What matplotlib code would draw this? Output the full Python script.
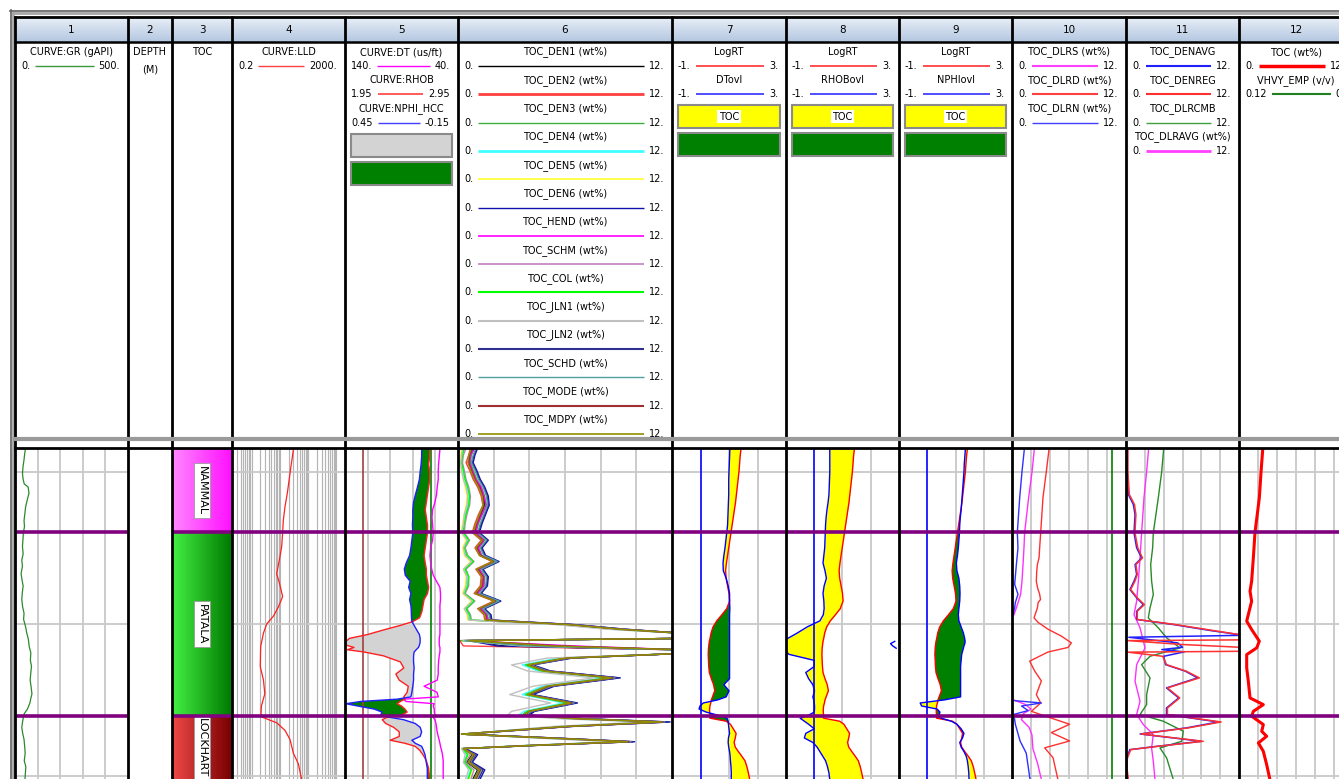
import numpy as np
import matplotlib.pyplot as plt
from matplotlib.colors import LinearSegmentedColormap
from matplotlib.patches import Rectangle

nan = float('nan')
plt.rcParams['font.family'] = ['DejaVu Sans']
FS = 7

# ---------------- depth window / formations ----------------
D_TOP, D_BOT = 2998.5, 3020.2
GRID_DEPTHS = [3000, 3010, 3020]
FM_NAMES = ['NAMMAL', 'PATALA', 'LOCKHART']
FM_TOPS = [2990.0, 3003.95, 3016.05]
FM_BASES = [3003.95, 3016.05, 3030.0]
FM_COLORS = [('#ff88ff', '#ff10ff'), ('#44f044', '#007a00'), ('#f04848', '#780000')]

# ---------------- track 1: gamma ray ----------------
GR_DEPTH = [2998.5, 2998.8, 2999.2, 2999.6, 3000.1, 3000.5, 3000.8, 3001.0, 3001.4, 3001.8,
            3002.3, 3002.7, 3003.2, 3003.6, 3004.0, 3004.5, 3004.9, 3005.4, 3005.8, 3006.2,
            3006.7, 3007.1, 3007.5, 3008.0, 3008.4, 3008.9, 3009.3, 3009.7, 3010.2, 3010.6,
            3011.0, 3011.5, 3011.9, 3012.4, 3012.8, 3013.2, 3013.7, 3014.1, 3014.6, 3014.9,
            3015.2, 3015.6, 3015.9, 3016.3, 3016.8, 3017.2, 3017.6, 3018.1, 3018.5, 3019.0,
            3019.4, 3019.8, 3020.25]
GR = [46, 43, 40, 36, 33, 36, 41, 58, 62, 55,
      47, 44, 40, 42, 37, 35, 33, 36, 30, 33,
      27, 31, 36, 32, 30, 34, 40, 38, 47, 52,
      59, 63, 70, 68, 73, 70, 67, 71, 75, 70,
      66, 55, 41, 35, 30, 34, 40, 43, 45, 41,
      48, 46, 44]

# ---------------- track 4: deep resistivity ----------------
LLD_DEPTH = [2998.5, 3000.1, 3001.4, 3002.3, 3003.2, 3004.0, 3004.9, 3005.8, 3006.7, 3007.3,
             3008.2, 3008.9, 3009.5, 3010.0, 3010.6, 3011.5, 3012.8, 3013.7, 3014.6, 3015.4,
             3016.1, 3016.5, 3017.0, 3017.6, 3018.5, 3019.2, 3020.25]
LLD = [30, 22.6, 18.2, 15, 13.1, 12.4, 11.5, 9.5, 7.6, 9.5,
       12.4, 8.7, 5.8, 3.4, 2.6, 2.07, 2.0, 2.6, 2.9, 2.2,
       2.1, 7.6, 15, 22.6, 29.7, 44.6, 58.5]

# ---------------- track 5: sonic / density / neutron ----------------
T5_DEPTH = [2998.5, 2999.0, 2999.5, 3000.0, 3000.5, 3001.0, 3001.5, 3002.0, 3002.5, 3003.0,
            3003.5, 3004.0, 3004.5, 3005.0, 3005.5, 3006.0, 3006.4, 3006.8, 3007.2, 3007.6,
            3008.0, 3008.4, 3008.8, 3009.2, 3009.6, 3009.85, 3010.1, 3010.4, 3010.7, 3010.95,
            3011.2, 3011.4, 3011.55, 3011.7, 3011.85, 3012.1, 3012.5, 3012.9, 3013.3, 3013.7,
            3014.1, 3014.5, 3014.8, 3014.95, 3015.1, 3015.25, 3015.4, 3015.6, 3015.8, 3016.0,
            3016.15, 3016.3, 3016.55, 3016.8, 3017.1, 3017.4, 3017.65, 3017.85, 3018.05, 3018.3,
            3018.6, 3019.0, 3019.5, 3020.25]
RHOB = [2.70, 2.70, 2.69, 2.70, 2.70, 2.69, 2.68, 2.67, 2.66, 2.67,
        2.68, 2.68, 2.67, 2.66, 2.65, 2.66, 2.67, 2.67, 2.68, 2.69,
        2.68, 2.65, 2.64, 2.63, 2.61, 2.55, 2.44, 2.29, 2.15, 1.99,
        1.95, 1.96, 2.03, 1.97, 2.12, 2.29, 2.44, 2.47, 2.40, 2.43,
        2.51, 2.50, 2.47, 2.48, 2.44, 2.41, 2.45, 2.48, 2.50, 2.45,
        2.32, 2.28, 2.31, 2.38, 2.43, 2.43, 2.35, 2.48, 2.57, 2.61,
        2.64, 2.67, 2.69, 2.70]
NPHI = [0.043, 0.043, 0.046, 0.051, 0.055, 0.065, 0.076, 0.086, 0.090, 0.090,
        0.092, 0.090, 0.095, 0.100, 0.107, 0.125, 0.135, 0.130, 0.104, 0.112,
        0.100, 0.107, 0.100, 0.098, 0.097, 0.095, 0.083, 0.069, 0.055, 0.051,
        0.051, 0.055, 0.060, 0.072, 0.083, 0.086, 0.086, 0.083, 0.086, 0.086,
        0.090, 0.095, 0.100, 0.173, 0.366, 0.445, 0.383, 0.296, 0.253, 0.261,
        0.209, 0.139, 0.077, 0.051, 0.043, 0.051, 0.095, 0.077, 0.043, 0.034,
        0.025, 0.020, 0.013, 0.013]
DT = [56.0, 56.6, 57.2, 57.5, 57.5, 58.4, 59.0, 60.4, 62.5, 63.0,
      62.5, 61.9, 62.5, 64.2, 64.8, 64.2, 63.3, 61.9, 59.0, 56.0,
      55.5, 55.5, 56.0, 56.0, 56.0, 56.0, 56.0, 56.0, 56.0, 56.6,
      56.6, 56.6, 56.0, 56.0, 56.0, 56.6, 57.2, 57.5, 57.5, 58.4,
      70.0, 58.5, 57.5, 88.0, 86.0, 61.0, 62.0, 61.0, 61.0, 60.4,
      62.0, 60.4, 59.5, 59.0, 58.4, 57.5, 56.6, 56.0, 55.5, 54.6,
      53.7, 53.1, 53.1, 53.1]
T5_REF_LINES = [(2.11, '#a04040'), (2.71, '#008000')]   # in RHOB units

# ---------------- track 6: TOC models ----------------
T6_DEPTH = [2998.45, 2998.9, 2999.4, 2999.9, 3000.5, 3001.0, 3001.6, 3002.2, 3002.8, 3003.4,
            3004.0, 3004.5, 3005.0, 3005.5, 3005.9, 3006.4, 3006.9, 3007.5, 3008.0, 3008.5,
            3009.0, 3009.4, 3009.75, 3010.05, 3010.35, 3010.65, 3010.95, 3011.1, 3011.45, 3011.72,
            3011.92, 3012.25, 3012.7, 3013.1, 3013.55, 3014.1, 3014.65, 3015.2, 3015.75, 3016.0,
            3016.23, 3016.45, 3016.75, 3017.25, 3017.5, 3017.75, 3018.0, 3018.2, 3018.6, 3019.1,
            3019.6, 3020.3]
TOC_DEN1 = [0.85, 0.7, 0.6, 0.8, 1.0, 1.25, 1.45, 1.5, 1.3, 1.1, 0.95, 1.45, 1.1, 1.3, 2.05, 1.15,
            1.45, 1.4, 1.05, 2.15, 1.25, 1.6, 1.65,
            6.0, 8.8, 13, 13, 0.8, 2.6, 13, 13, 5.8, 3.8, 4.6, 8.4, 4.9, 3.8, 6.1, 3.9, 3.6, 6.3,
            11.2, 5.8, 0.2, 4.8, 9.3, 3.9, 0.3, 0.8, 0.5, 1.1, 0.8]
TOC_DEN2 = [0.7, 0.6, 0.45, 0.65, 0.85, 1.1, 1.3, 1.4, 1.15, 0.95, 0.8, 1.3, 0.95, 1.2, 1.9, 1.0,
            1.3, 1.25, 0.9, 2.0, 1.1, 1.45, 1.5,
            6.4, 9.2, 13, 13, 0.1, 0.3, 13, 13, 6.2, 4.0, 5.0, 8.9, 5.2, 4.0, 6.5, 4.1, 3.8, 6.8,
            11.7, 6.2, 0.2, 5.3, 9.8, 4.1, 0.2, 1.0, 0.7, 1.3, 1.0]
TOC_DEN3 = [0.9, 0.75, 0.7, 0.85, 1.05, 1.3, 1.5, 1.55, 1.35, 1.15, 1.0, 1.5, 1.15, 1.35, 2.1, 1.2,
            1.5, 1.45, 1.1, 2.2, 1.3, 1.65, 1.7,
            6.1, 8.9, 13, 13, 0.4, 4.0, 13, 13, 5.9, 3.8, 4.7, 8.5, 4.9, 3.8, 6.2, 3.9, 3.6, 6.4,
            11.3, 5.9, 0.2, 4.9, 9.4, 3.9, 0.3, 0.85, 0.55, 1.15, 0.85]
TOC_DEN4 = [0.3, 0.2, 0.15, 0.25, 0.35, 0.5, 0.6, 0.55, 0.4, 0.3, 0.25, 0.55, 0.3, 0.45, 0.8, 0.35,
            0.55, 0.5, 0.3, 0.85, 0.4, 0.6, 0.65,
            5.8, 8.6, 13, 13, 0.5, 3.5, 13, 13, 5.6, 3.6, 4.5, 8.2, 4.7, 3.6, 5.9, 3.7, 3.4, 6.0,
            10.9, 5.6, 0.2, 4.6, 9.0, 3.8, 0.2, 0.5, 0.3, 0.7, 0.5]
TOC_DEN5 = [0.2, 0.15, 0.1, 0.2, 0.3, 0.4, 0.5, 0.45, 0.35, 0.25, 0.2, 0.45, 0.25, 0.35, 0.7, 0.3,
            0.45, 0.4, 0.25, 0.75, 0.35, 0.5, 0.55,
            6.1, 9.0, 13, 13, 0.6, 5.5, 13, 13, 6.0, 3.9, 4.8, 8.6, 5.0, 3.9, 6.3, 4.0, 3.7, 6.6,
            11.5, 6.0, 0.3, 5.1, 9.6, 4.0, 0.3, 0.6, 0.35, 0.8, 0.6]
TOC_DEN6 = [1.1, 0.95, 0.85, 1.05, 1.25, 1.5, 1.7, 1.75, 1.55, 1.35, 1.2, 1.7, 1.35, 1.55, 2.3, 1.4,
            1.7, 1.65, 1.3, 2.4, 1.5, 1.85, 1.9,
            6.6, 9.4, 13, 13, 0.6, 2.2, 13, 13, 6.4, 4.2, 5.2, 9.1, 5.4, 4.2, 6.7, 4.3, 4.0, 7.0,
            11.9, 6.3, 0.3, 5.4, 9.9, 4.2, 0.4, 1.1, 0.8, 1.5, 1.2]
TOC_HEND = [0.95, 0.7, 0.65, 0.8, 1.0, 1.3, 1.45, 1.6, 1.35, 1.1, 1.0, 1.45, 1.15, 1.3, 2.0, 1.2,
            1.45, 1.45, 1.1, 2.1, 1.3, 1.6, 1.7,
            6.3, 9.1, 13, 13, 0.3, 6.5, 13, 13, 6.1, 4.0, 4.9, 8.7, 5.1, 3.9, 6.4, 4.0, 3.8, 6.6,
            11.5, 6.1, 0.2, 5.1, 9.6, 4.0, 0.3, 0.9, 0.6, 1.2, 0.9]
TOC_SCHM = [0.45, 0.3, 0.25, 0.35, 0.45, 0.6, 0.7, 0.65, 0.5, 0.4, 0.35, 0.65, 0.4, 0.55, 0.9, 0.45,
            0.6, 0.6, 0.4, 0.95, 0.5, 0.7, 0.75,
            6.0, 8.9, 13, 13, 0.4, 4.5, 13, 13, 5.9, 3.8, 4.7, 8.4, 4.9, 3.8, 6.2, 3.9, 3.6, 6.4,
            11.2, 5.8, 0.2, 4.9, 9.3, 3.9, 0.3, 0.7, 0.4, 0.9, 0.7]
TOC_COL = [0.35, 0.25, 0.2, 0.3, 0.4, 0.55, 0.65, 0.6, 0.45, 0.35, 0.3, 0.6, 0.35, 0.5, 0.85, 0.4,
           0.6, 0.55, 0.35, 0.9, 0.45, 0.65, 0.7,
           6.2, 9.0, 13, 13, 0.2, 4.2, 13, 13, 6.0, 3.8, 4.7, 8.5, 5.0, 3.8, 6.2, 3.9, 3.6, 6.5,
           11.3, 5.9, 0.2, 5.0, 9.4, 3.9, 0.25, 0.55, 0.35, 0.75, 0.55]
TOC_JLN1 = [0.25, 0.2, 0.15, 0.2, 0.3, 0.45, 0.55, 0.5, 0.35, 0.3, 0.2, 0.5, 0.3, 0.4, 0.75, 0.3,
            0.5, 0.45, 0.3, 0.8, 0.35, 0.55, 0.6,
            5.5, 8.3, 13, 13, 0.3, 3.5, 13, 13, 5.0, 3.0, 3.9, 7.6, 4.2, 2.9, 5.2, 3.0, 2.8, 5.6,
            10.5, 5.3, 0.2, 4.3, 8.7, 3.6, 0.2, 0.4, 0.3, 0.6, 0.4]
TOC_JLN2 = [1.05, 0.9, 0.8, 1.0, 1.2, 1.45, 1.65, 1.7, 1.5, 1.3, 1.15, 1.65, 1.3, 1.5, 2.25, 1.35,
            1.65, 1.6, 1.25, 2.35, 1.45, 1.8, 1.85,
            6.5, 9.3, 13, 13, 0.5, 5.0, 13, 13, 6.3, 4.1, 5.1, 9.0, 5.3, 4.1, 6.6, 4.2, 3.9, 6.9,
            11.8, 6.2, 0.3, 5.3, 9.8, 4.1, 0.35, 1.0, 0.75, 1.4, 1.1]
TOC_SCHD = [1.0, 0.85, 0.75, 0.95, 1.15, 1.4, 1.6, 1.65, 1.45, 1.25, 1.1, 1.6, 1.25, 1.45, 2.2, 1.3,
            1.6, 1.55, 1.2, 2.3, 1.4, 1.75, 1.8,
            6.4, 9.2, 13, 13, 0.4, 3.8, 13, 13, 6.2, 4.1, 5.0, 8.8, 5.2, 4.0, 6.5, 4.1, 3.8, 6.7,
            11.6, 6.1, 0.3, 5.2, 9.7, 4.1, 0.3, 0.95, 0.7, 1.3, 1.0]
TOC_MODE = [0.8, 0.65, 0.6, 0.75, 0.95, 1.2, 1.4, 1.45, 1.25, 1.05, 0.9, 1.4, 1.05, 1.25, 2.0, 1.1,
            1.4, 1.35, 1.0, 2.1, 1.2, 1.55, 1.6,
            6.3, 9.1, 13, 13, 0.7, 5.8, 13, 13, 6.1, 4.0, 4.9, 8.7, 5.1, 4.0, 6.4, 4.0, 3.7, 6.6,
            11.5, 6.1, 0.2, 5.1, 9.6, 4.0, 0.3, 0.9, 0.65, 1.25, 0.95]
TOC_MDPY = [0.75, 0.6, 0.55, 0.7, 0.9, 1.15, 1.35, 1.4, 1.2, 1.0, 0.85, 1.35, 1.0, 1.2, 1.95, 1.05,
            1.35, 1.3, 0.95, 2.05, 1.15, 1.5, 1.55,
            6.2, 9.0, 13, 13, 0.6, 5.2, 13, 13, 6.0, 3.9, 4.8, 8.6, 5.0, 3.9, 6.3, 4.0, 3.7, 6.5,
            11.4, 6.0, 0.2, 5.0, 9.5, 4.0, 0.3, 0.85, 0.6, 1.2, 0.9]

# ---------------- tracks 7-9: LogRT overlays ----------------
OVL_DEPTH = [2998.5, 2999.0, 2999.5, 3000.0, 3000.5, 3001.0, 3001.5, 3002.0, 3002.5, 3003.0,
             3003.5, 3004.0, 3004.5, 3005.0, 3005.5, 3006.0, 3006.5, 3007.0, 3007.5, 3008.0,
             3008.5, 3009.0, 3009.4, 3009.8, 3010.2, 3010.6, 3011.0, 3011.15, 3011.3, 3011.45,
             3011.6, 3012.0, 3012.4, 3012.8, 3013.2, 3013.6, 3014.0, 3014.4, 3014.8, 3015.0,
             3015.2, 3015.4, 3015.6, 3015.8, 3016.0, 3016.2, 3016.4, 3016.6, 3016.9, 3017.2,
             3017.5, 3017.8, 3018.1, 3018.4, 3018.7, 3019.0, 3019.4, 3019.8, 3020.25]
LOGRT = [1.42, 1.39, 1.37, 1.35, 1.32, 1.29, 1.26, 1.23, 1.19, 1.15,
         1.11, 1.07, 1.03, 0.99, 0.95, 0.91, 0.88, 0.90, 0.95, 1.00,
         1.02, 0.92, 0.75, 0.57, 0.44, 0.37, 0.33, 0.31, 0.30, 0.29,
         0.28, 0.27, 0.28, 0.29, 0.31, 0.38, 0.46, 0.50, 0.42, 0.38,
         0.36, 0.33, 0.32, 0.32, 0.33, 0.33, 0.90, 1.05, 1.15, 1.25,
         1.22, 1.18, 1.22, 1.33, 1.45, 1.56, 1.63, 1.68, 1.73]
DTOVL = [1.03, 1.02, 1.01, 1.00, 0.99, 0.99, 0.99, 0.98, 0.97, 0.96,
         0.95, 0.92, 0.89, 0.86, 0.82, 0.79, 0.80, 0.90, 0.97, 1.02,
         1.02, 1.03, 1.02, 1.02, 1.02, 1.02, 1.02, 1.02, 1.02, 1.02,
         1.02, 1.02, 1.02, 1.02, 1.02, 1.02, 0.82, 1.00, 0.90, 0.60,
         0.10, -0.02, -0.05, 0.20, 0.60, 0.93, 0.97, 0.98, 1.00, 1.02,
         0.98, 0.97, 0.99, 1.02, 1.04, 1.05, 1.07, 1.08, 1.08]
RHOBOVL = [0.55, 0.55, 0.55, 0.55, 0.54, 0.53, 0.52, 0.49, 0.45, 0.42,
           0.40, 0.39, 0.38, 0.37, 0.34, 0.31, 0.38, 0.43, 0.35, 0.31,
           0.34, 0.35, 0.32, 0.20, -0.25, -0.60, -0.98, -1.15, -1.30, -1.22,
           -1.10, -0.90, 0.00, 0.00, -0.30, -0.20, -0.05, 0.01, -0.05, -0.02,
           0.00, 0.01, 0.01, 0.00, -0.20, -0.50, -0.35, -0.20, 0.00, -0.30,
           -0.35, -0.05, 0.10, 0.20, 0.30, 0.40, 0.47, 0.52, 0.55]
NPHIOVL = [1.35, 1.33, 1.31, 1.30, 1.28, 1.26, 1.24, 1.22, 1.20, 1.17,
           1.15, 1.14, 1.12, 1.10, 1.07, 1.03, 1.05, 1.12, 1.15, 1.16,
           1.15, 1.12, 1.10, 1.12, 1.20, 1.28, 1.33, 1.34, 1.33, 1.30,
           1.28, 1.22, 1.20, 1.18, 1.18, 1.18, 1.18, 1.18, 1.18, 0.60,
           -0.25, -0.20, 0.35, 0.45, 0.42, 0.50, 0.85, 1.05, 1.20, 1.30,
           1.25, 1.15, 1.20, 1.30, 1.38, 1.42, 1.45, 1.47, 1.48]

# ---------------- track 10: resistivity-based TOC ----------------
DLRS_DEPTH = [2998.5, 3000.0, 3001.7, 3004.0, 3005.0, 3006.1, 3007.2, 3008.05, 3008.95, 3009.4,
              3012.0, 3015.0, 3015.3, 3015.6, 3015.9, 3016.3, 3016.8, 3017.3, 3018.2, 3019.2, 3020.25]
TOC_DLRS = [2.35, 2.11, 1.75, 1.33, 1.26, 1.16, 1.05, 0.91, 0.46, 0.21,
            nan, 0.2, 1.4, 2.0, 1.2, 1.0, 1.8, 2.1, 2.2, 2.7, 3.1]
DLRD_DEPTH = [2998.5, 3000.0, 3001.7, 3004.0, 3005.0, 3005.65, 3006.1, 3006.55, 3007.2, 3007.65,
              3008.05, 3008.4, 3008.6, 3008.95, 3009.6, 3009.9, 3010.35, 3010.8, 3011.25, 3011.55,
              3011.85, 3012.45, 3013.1, 3013.75, 3014.65, 3015.2, 3015.75, 3016.2, 3016.6, 3017.15,
              3017.7, 3018.15, 3018.8, 3020.25]
TOC_DLRD = [3.9, 3.61, 3.26, 3.02, 2.91, 2.85, 2.67, 2.6, 2.56, 2.7,
            2.91, 3.0, 2.75, 2.67, 2.32, 2.74, 3.79, 5.19, 6.25, 5.89,
            3.79, 1.86, 2.39, 3.09, 2.56, 3.02, 2.04, 4.14, 6.07, 4.14,
            6.07, 3.44, 4.32, 4.84]
DLRN_DEPTH = [2998.5, 3000.0, 3001.7, 3004.0, 3005.0, 3006.1, 3007.4, 3008.05, 3008.6, 3008.95,
              3009.4, 3012.0, 3015.05, 3015.2, 3015.4, 3015.7, 3015.95, 3016.6, 3017.7, 3018.5, 3020.25]
TOC_DLRN = [1.3, 1.05, 0.81, 0.56, 0.63, 0.46, 0.28, 0.63, 0.35, 0.28,
            0.1, nan, 0.3, 3.1, 1.0, 1.7, 0.2, 0.35, 0.85, 1.5, 1.9]
T10_REF = 10.55

# ---------------- track 11: averaged TOC ----------------
DENAVG_DEPTH = [2998.5, 3000.0, 3001.49, 3002.15, 3002.81, 3004.01, 3005.0, 3005.66, 3006.1, 3006.75,
                3007.19, 3007.74, 3008.29, 3008.73, 3009.17, 3009.71, 3010.04, 3010.44, 3010.75, 3010.88,
                3011.25, 3011.54, 3011.69, 3011.84, 3012.13, 3012.68, 3013.11, 3013.55, 3014.21, 3014.87,
                3015.53, 3015.96, 3016.45, 3016.84, 3017.24, 3017.72, 3018.05, 3018.27, 3018.82, 3019.47,
                3020.25]
TOC_DENAVG = [0.14, 0.14, 0.25, 0.78, 0.96, 0.85, 1.13, 1.66, 0.96, 1.13,
              0.85, 0.42, 1.13, 1.84, 1.13, 1.13, 5.0, 9.0, 12.5, 0.3,
              5.5, 6.0, 3.8, 6.2, 4.0, 4.2, 6.3, 7.6, 4.3, 5.6,
              4.3, 4.3, 9.8, 6.4, 1.5, 8.0, 3.3, 0.4, 0.1, 0.05,
              0.2]
DENREG_DEPTH = [2998.5, 3000.0, 3001.49, 3002.15, 3002.81, 3004.01, 3005.0, 3005.66, 3006.1, 3006.75,
                3007.19, 3007.74, 3008.29, 3008.73, 3009.17, 3009.71, 3010.04, 3010.44, 3010.75, 3011.05,
                3011.1, 3011.35, 3011.55, 3011.8, 3011.86, 3012.13, 3012.68, 3013.11, 3013.55, 3014.21,
                3014.87, 3015.53, 3015.96, 3016.45, 3016.84, 3017.24, 3017.72, 3018.05, 3018.27, 3018.82,
                3019.47, 3020.25]
TOC_DENREG = [0.2, 0.2, 0.35, 0.9, 1.05, 0.95, 1.25, 1.75, 1.05, 1.2,
              0.95, 0.5, 1.2, 1.95, 1.2, 1.2, 5.2, 9.3, 12.5, 12.5,
              0.2, 5.8, 12.5, 12.5, 0.2, 3.9, 4.3, 6.4, 7.8, 4.4,
              5.7, 4.4, 4.4, 10.1, 6.6, 1.6, 8.2, 3.4, 0.5, 0.15,
              0.1, 0.25]
DLRCMB_DEPTH = [2998.5, 3000.0, 3001.71, 3004.01, 3005.0, 3006.1, 3007.19, 3008.07, 3008.95, 3009.61,
                3010.26, 3010.92, 3011.58, 3012.13, 3012.68, 3013.55, 3014.65, 3015.31, 3015.96, 3016.4,
                3017.06, 3017.72, 3018.16, 3018.82, 3020.25]
TOC_DLRCMB = [4.0, 3.79, 3.43, 2.9, 2.83, 2.62, 2.72, 2.9, 2.55, 2.37,
              3.43, 4.32, 5.73, 2.55, 1.66, 2.55, 2.19, 2.19, 1.49, 3.96,
              6.09, 5.91, 3.61, 4.32, 5.03]
DLRAVG_DEPTH = [2998.5, 3000.0, 3001.71, 3004.01, 3005.66, 3007.19, 3008.51, 3009.39, 3010.26, 3011.58,
                3012.68, 3013.77, 3015.09, 3015.96, 3016.62, 3017.28, 3018.16, 3019.04, 3020.25]
TOC_DLRAVG = [2.4, 2.19, 1.91, 1.66, 1.49, 1.31, 1.13, 0.85, 1.49, 2.02,
              1.13, 0.96, 1.49, 1.13, 1.84, 2.9, 2.72, 2.9, 3.08]

# ---------------- track 12: final TOC ----------------
TOC_DEPTH = [2998.5, 3000.0, 3001.71, 3004.01, 3005.66, 3007.19, 3007.85, 3008.51, 3009.39, 3009.82,
             3010.37, 3011.14, 3011.58, 3012.02, 3012.89, 3013.77, 3014.87, 3015.31, 3015.75, 3016.07,
             3016.62, 3017.06, 3017.39, 3017.83, 3018.38, 3019.25, 3020.25]
TOC = [2.5, 2.32, 2.14, 1.68, 1.51, 1.33, 1.16, 1.33, 0.98, 0.81,
       1.33, 2.14, 1.86, 0.81, 0.81, 0.98, 1.16, 2.56, 1.51, 1.33,
       2.56, 2.39, 2.91, 2.04, 2.56, 2.91, 3.26]

TRACK6 = [('TOC_DEN1', TOC_DEN1, '#000000', 1.0), ('TOC_DEN2', TOC_DEN2, '#ff4040', 1.0),
          ('TOC_DEN3', TOC_DEN3, '#40b040', 1.0), ('TOC_DEN4', TOC_DEN4, '#40ffff', 1.0),
          ('TOC_DEN5', TOC_DEN5, '#ffff30', 1.0), ('TOC_DEN6', TOC_DEN6, '#1010b0', 1.0),
          ('TOC_HEND', TOC_HEND, '#ff00ff', 1.0), ('TOC_SCHM', TOC_SCHM, '#c080c0', 1.0),
          ('TOC_COL', TOC_COL, '#00ff00', 1.0), ('TOC_JLN1', TOC_JLN1, '#c0c0c0', 1.0),
          ('TOC_JLN2', TOC_JLN2, '#303090', 1.0), ('TOC_SCHD', TOC_SCHD, '#50a0a0', 1.0),
          ('TOC_MODE', TOC_MODE, '#a03030', 1.0), ('TOC_MDPY', TOC_MDPY, '#909000', 1.0)]
T6_KEY_LW = [1.0, 2.0, 1.0, 2.0, 1.2, 1.0, 1.2, 1.2, 1.5, 1.5, 1.5, 1.0, 1.5, 1.2]

# ---------------- layout (pixels) ----------------
W, H = 1339, 779
EDGES = [15, 128, 172, 232, 345, 458, 672, 786, 899, 1012, 1126, 1239, 1353]
DATA_Y0, DATA_Y1 = 449, 779
GRID_C = '#c8c8c8'
FM_LINE = '#800080'

fig = plt.figure(figsize=(W / 100, H / 100), dpi=100)
fig.patch.set_facecolor('white')

base = fig.add_axes([0, 0, 1, 1])
base.set_axis_off()
band = LinearSegmentedColormap.from_list('band', ['#e8eff8', '#b4c7e0'])
base.imshow(np.linspace(0, 1, 32).reshape(-1, 1), extent=(EDGES[0], W, 42, 17),
            cmap=band, aspect='auto', zorder=0)
base.set_xlim(0, W)
base.set_ylim(H, 0)
renderer = fig.canvas.get_renderer()


def centre(i):
    return (EDGES[i] + EDGES[i + 1]) / 2


for i in range(12):
    base.text(centre(i), 30, str(i + 1), ha='center', va='center', fontsize=7.5)

ROW = 28.3


def header_curves(i, curves):
    x0, x1 = EDGES[i], EDGES[i + 1]
    ys = 66
    for k, (name, lo, hi, color, lw) in enumerate(curves):
        yn = 52 + ROW * k
        ys = yn + 14
        base.text(centre(i), yn, name, ha='center', va='center', fontsize=FS)
        tl = base.text(x0 + 6, ys, lo, ha='left', va='center', fontsize=FS)
        tr = base.text(x1 - 8, ys, hi, ha='right', va='center', fontsize=FS)
        a = tl.get_window_extent(renderer).x1 + 5
        b = tr.get_window_extent(renderer).x0 - 5
        base.plot([a, b], [ys, ys], color=color, lw=lw, solid_capstyle='butt')
    return ys


def legend_box(i, top, color, label=None):
    x0, x1 = EDGES[i] + 6, EDGES[i + 1] - 6
    base.add_patch(Rectangle((x0, top), x1 - x0, 23, fc=color, ec='#8a8a8a', lw=1.5))
    if label:
        base.text((x0 + x1) / 2, top + 11.5, label, ha='center', va='center', fontsize=FS,
                  bbox=dict(fc='white', ec='none', pad=1.2))


header_curves(0, [('CURVE:GR (gAPI)', '0.', '500.', '#3a9a3a', 1.0)])
base.text(centre(1), 52, 'DEPTH', ha='center', va='center', fontsize=FS)
base.text(centre(1), 69, '(M)', ha='center', va='center', fontsize=FS)
base.text(centre(2), 52, 'TOC', ha='center', va='center', fontsize=FS)
header_curves(3, [('CURVE:LLD', '0.2', '2000.', '#ff4040', 1.0)])
y = header_curves(4, [('CURVE:DT (us/ft)', '140.', '40.', '#ff00ff', 1.0),
                      ('CURVE:RHOB', '1.95', '2.95', '#ff4040', 1.2),
                      ('CURVE:NPHI_HCC', '0.45', '-0.15', '#4040ff', 1.0)])
legend_box(4, y + 11, '#d3d3d3')
legend_box(4, y + 39, '#008000')
header_curves(5, [(name + ' (wt%)', '0.', '12.', color, lw)
                  for (name, _, color, _), lw in zip(TRACK6, T6_KEY_LW)])
for i, ovl in [(6, 'DTovl'), (7, 'RHOBovl'), (8, 'NPHIovl')]:
    y = header_curves(i, [('LogRT', '-1.', '3.', '#ff3030', 1.2),
                          (ovl, '-1.', '3.', '#3030ff', 1.2)])
    legend_box(i, y + 11, '#ffff00', 'TOC')
    legend_box(i, y + 39, '#008000')
header_curves(9, [('TOC_DLRS (wt%)', '0.', '12.', '#ff40ff', 1.5),
                  ('TOC_DLRD (wt%)', '0.', '12.', '#ff4040', 1.5),
                  ('TOC_DLRN (wt%)', '0.', '12.', '#4040ff', 1.0)])
header_curves(10, [('TOC_DENAVG', '0.', '12.', '#2020ff', 1.5),
                   ('TOC_DENREG', '0.', '12.', '#ff3030', 1.5),
                   ('TOC_DLRCMB', '0.', '12.', '#40a040', 1.0),
                   ('TOC_DLRAVG (wt%)', '0.', '12.', '#ff40ff', 2.0)])
header_curves(11, [('TOC (wt%)', '0.', '12.', '#ff0000', 2.5),
                   ('VHVY_EMP (v/v)', '0.12', '0.', '#208020', 1.5)])


# ---------------- data tracks ----------------
def track(i, xlim=(0, 1), grid=(), log=False, tops=True, hgrid=True,
          grid_lw=1.3, grid_c=GRID_C):
    x0, x1 = EDGES[i], EDGES[i + 1]
    ax = fig.add_axes([x0 / W, 1 - DATA_Y1 / H, (x1 - x0) / W, (DATA_Y1 - DATA_Y0) / H])
    ax.set_axis_off()
    if log:
        ax.set_xscale('log')
    for v in grid:
        ax.axvline(v, color=grid_c, lw=grid_lw, zorder=0.5)
    if hgrid:
        for d in GRID_DEPTHS:
            ax.axhline(d, color=GRID_C, lw=1.3, zorder=0.5)
    if tops:
        for d in FM_TOPS[1:]:
            ax.axhline(d, color=FM_LINE, lw=2.6, zorder=10)
    ax.set_xlim(*xlim)
    ax.set_ylim(D_BOT, D_TOP)
    return ax


def frac(values, left, right):
    return (np.asarray(values, dtype=float) - left) / (right - left)


# 1: gamma ray
ax = track(0, (0, 500), grid=[100, 200, 300, 400])
ax.plot(GR, GR_DEPTH, color='#2a8a2a', lw=0.9)

# 2: depth (empty)
track(1, tops=False, hgrid=False)

# 3: formations
ax = track(2, tops=True, hgrid=False)
for name, t, b, (c0, c1) in zip(FM_NAMES, FM_TOPS, FM_BASES, FM_COLORS):
    cmap = LinearSegmentedColormap.from_list(name, [c0, c1])
    ax.imshow(np.linspace(0, 1, 64).reshape(1, -1), extent=(0, 1, b, t), cmap=cmap,
              aspect='auto', zorder=1)
    mid = (max(t, D_TOP) + min(b, D_BOT)) / 2
    ax.text(0.5, mid, name, rotation=-90, ha='center', va='center', fontsize=8, zorder=5,
            bbox=dict(fc='white', ec='#9a9a9a', lw=0.6, pad=1.8))
ax.set_xlim(0, 1)
ax.set_ylim(D_BOT, D_TOP)

# 4: deep resistivity (log)
log_grid = [m * 10.0 ** e for e in range(-1, 4) for m in range(1, 10)]
log_grid = [v for v in log_grid if 0.2 < v < 2000]
ax = track(3, (0.2, 2000), grid=log_grid, log=True, grid_lw=0.85, grid_c='#b4b4b4')
ax.plot(LLD, LLD_DEPTH, color='#ff2020', lw=0.9)

# 5: DT / RHOB / NPHI with crossover shading
ax = track(4, (0, 1), grid=[0.2, 0.4, 0.6, 0.8])
f_rhob = frac(RHOB, 1.95, 2.95)
f_nphi = frac(NPHI, 0.45, -0.15)
ax.fill_betweenx(T5_DEPTH, f_nphi, f_rhob, where=f_nphi <= f_rhob, interpolate=True,
                 color='#008000', lw=0, zorder=1)
ax.fill_betweenx(T5_DEPTH, f_rhob, f_nphi, where=f_rhob <= f_nphi, interpolate=True,
                 color='#d3d3d3', lw=0, zorder=1)
for v, c in T5_REF_LINES:
    ax.axvline(frac(v, 1.95, 2.95), color=c, lw=1.2, zorder=2)
ax.plot(frac(DT, 140, 40), T5_DEPTH, color='#ff00ff', lw=1.0, zorder=3)
ax.plot(f_rhob, T5_DEPTH, color='#ff2020', lw=1.0, zorder=3)
ax.plot(f_nphi, T5_DEPTH, color='#2020ff', lw=1.0, zorder=3)

# 6: TOC model bundle
ax = track(5, (0, 12), grid=[2, 4, 6, 8, 10])
for name, vals, color, lw in TRACK6:
    ax.plot(vals, T6_DEPTH, color=color, lw=lw, zorder=3)

# 7-9: LogRT overlays
for i, ovl in [(6, DTOVL), (7, RHOBOVL), (8, NPHIOVL)]:
    ax = track(i, (-1, 3), grid=[1, 2])
    ax.axvline(0, color='#0000ff', lw=1.2, zorder=2)
    rt = np.asarray(LOGRT, dtype=float)
    ov = np.asarray(ovl, dtype=float)
    ax.fill_betweenx(OVL_DEPTH, ov, rt, where=rt >= ov, interpolate=True,
                     color='#ffff00', lw=0, zorder=1)
    ax.fill_betweenx(OVL_DEPTH, rt, ov, where=ov >= rt, interpolate=True,
                     color='#008000', lw=0, zorder=1)
    ax.plot(rt, OVL_DEPTH, color='#ff0000', lw=1.0, zorder=3)
    ax.plot(ov, OVL_DEPTH, color='#0000ff', lw=1.0, zorder=3)
    # values left of the scale wrap round to the right side
    ax.plot(np.where(ov < -1, ov + 4, np.nan), OVL_DEPTH, color='#0000ff', lw=1.0, zorder=3)

# 10: resistivity TOC
ax = track(9, (0, 12), grid=[2, 4, 6, 8, 10])
ax.axvline(T10_REF, color='#008000', lw=1.2, zorder=2)
ax.plot(TOC_DLRS, DLRS_DEPTH, color='#ff30ff', lw=1.0, zorder=3)
ax.plot(TOC_DLRD, DLRD_DEPTH, color='#ff3030', lw=1.0, zorder=3)
ax.plot(TOC_DLRN, DLRN_DEPTH, color='#3030ff', lw=1.0, zorder=3)

# 11: averaged TOC
ax = track(10, (0, 12), grid=[2, 4, 6, 8, 10])
ax.plot(TOC_DLRCMB, DLRCMB_DEPTH, color='#2a8a2a', lw=1.0, zorder=3)
ax.plot(TOC_DLRAVG, DLRAVG_DEPTH, color='#ff30ff', lw=1.0, zorder=3)
ax.plot(TOC_DENAVG, DENAVG_DEPTH, color='#2020ff', lw=1.1, zorder=3)
ax.plot(TOC_DENREG, DENREG_DEPTH, color='#ff3030', lw=1.1, zorder=3)

# 12: final TOC
ax = track(11, (0, 12), grid=[2, 4, 6, 8, 10])
ax.plot(TOC, TOC_DEPTH, color='#ff0000', lw=2.2, zorder=3)

# ---------------- frame lines on top ----------------
top = fig.add_axes([0, 0, 1, 1])
top.set_axis_off()
top.set_xlim(0, W)
top.set_ylim(H, 0)
top.plot([10.5, 10.5], [10, H], color='#606060', lw=1.2)
top.plot([10, W], [10.5, 10.5], color='#606060', lw=1.2)
top.plot([13, 13], [12.5, H], color='#a8a8a8', lw=2)
top.plot([12.5, W], [13, 13], color='#a8a8a8', lw=2)
for x in EDGES:
    top.plot([x, x], [16, H], color='black', lw=2, solid_capstyle='butt')
top.plot([EDGES[0], W], [16.5, 16.5], color='black', lw=2)
top.plot([EDGES[0], W], [42, 42], color='black', lw=1.8)
top.plot([EDGES[0], W], [438.5, 438.5], color='#9a9a9a', lw=3)
top.plot([EDGES[0], W], [447.5, 447.5], color='black', lw=2)

fig.savefig('out.png', dpi=100)
